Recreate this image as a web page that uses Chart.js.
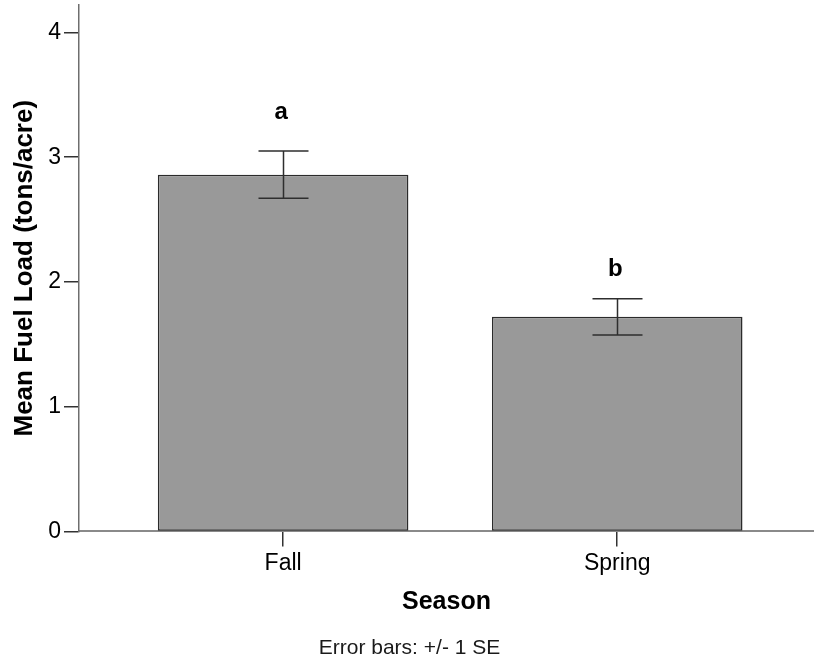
<!DOCTYPE html>
<html>
<head>
<meta charset="utf-8">
<script src="https://cdn.jsdelivr.net/npm/chart.js@4"></script>
<style>
  html, body { margin: 0; padding: 0; background: #ffffff; }
  canvas { display: block; }
</style>
</head>
<body>
<canvas id="chart" width="814" height="659"></canvas>
<script>
// Mean fuel load by burn season, with +/- 1 standard error
const seasons = ['Fall', 'Spring'];
const meanLoad = [2.86, 1.72];
const stdError = [0.19, 0.145];
const groupLetters = ['a', 'b'];
const letterLevel = [3.31, 2.05];   // y-value of each letter's baseline
const yTicks = [0, 1, 2, 3, 4];

const FONT = '"Liberation Sans", Arial, Helvetica, sans-serif';

const points = seasons.map((s, i) => ({ x: i + 1, y: meanLoad[i] }));

// Draws the SE whiskers and the significance letters above each bar
const errorBarPlugin = {
  id: 'errorBars',
  afterDatasetsDraw(chart) {
    const { ctx, scales: { x, y } } = chart;
    ctx.save();
    ctx.strokeStyle = '#2e2e2e';
    ctx.lineWidth = 1.5;
    const cap = 25;
    seasons.forEach((s, i) => {
      const px = Math.round(x.getPixelForValue(i + 1)) + 0.5;
      const hi = y.getPixelForValue(meanLoad[i] + stdError[i]);
      const lo = y.getPixelForValue(meanLoad[i] - stdError[i]);
      ctx.beginPath();
      ctx.moveTo(px, hi); ctx.lineTo(px, lo);
      ctx.moveTo(px - cap, hi); ctx.lineTo(px + cap, hi);
      ctx.moveTo(px - cap, lo); ctx.lineTo(px + cap, lo);
      ctx.stroke();
    });
    ctx.fillStyle = '#000000';
    ctx.font = 'bold 24px ' + FONT;
    ctx.textAlign = 'center';
    ctx.textBaseline = 'alphabetic';
    groupLetters.forEach((t, i) => {
      ctx.fillText(t, x.getPixelForValue(i + 1) - 2, y.getPixelForValue(letterLevel[i]));
    });
    ctx.restore();
  }
};

new Chart(document.getElementById('chart'), {
  type: 'bar',
  data: {
    datasets: [{
      data: points,
      backgroundColor: '#999999',
      borderColor: '#2b2b2b',
      borderWidth: 1.5,
      borderSkipped: false,
      categoryPercentage: 1.0,
      barPercentage: 0.75
    }]
  },
  options: {
    responsive: false,
    animation: false,
    devicePixelRatio: 1,
    layout: { padding: { left: 5, top: 5, right: 0, bottom: 0 } },
    plugins: {
      legend: { display: false },
      tooltip: { enabled: false },
      title: {
        display: true,
        position: 'bottom',
        text: 'Error bars: +/- 1 SE',
        color: '#1a1a1a',
        font: { family: FONT, size: 21, weight: 'normal', lineHeight: 1.0 },
        padding: { top: 0, bottom: 0 }
      }
    },
    scales: {
      x: {
        type: 'linear',
        min: 0.389,
        max: 2.589,
        offset: false,
        afterBuildTicks: (scale) => { scale.ticks = seasons.map((s, i) => ({ value: i + 1 })); },
        ticks: {
          callback: (v) => seasons[v - 1] ?? '',
          color: '#000000',
          font: { family: FONT, size: 23 },
          padding: 3,
          autoSkip: false,
          maxRotation: 0
        },
        grid: {
          offset: false,
          drawOnChartArea: false,
          drawTicks: true,
          tickLength: 15,
          color: '#333333',
          lineWidth: 1.5
        },
        border: { display: true, color: '#8a8a8a', width: 2 },
        title: {
          display: true,
          text: 'Season',
          color: '#000000',
          font: { family: FONT, size: 25, weight: 'bold' },
          padding: { top: 7, bottom: 21 }
        }
      },
      y: {
        type: 'linear',
        min: 0,
        max: 4.22,
        afterBuildTicks: (scale) => { scale.ticks = yTicks.map(v => ({ value: v })); },
        ticks: {
          color: '#000000',
          font: { family: FONT, size: 23, lineHeight: 0.1 },
          padding: 3
        },
        grid: {
          drawOnChartArea: false,
          drawTicks: true,
          tickLength: 15,
          color: '#333333',
          lineWidth: 1.5
        },
        border: { display: true, color: '#6e6e6e', width: 1.5 },
        title: {
          display: true,
          text: 'Mean Fuel Load (tons/acre)',
          color: '#000000',
          font: { family: FONT, size: 26, weight: 'bold' },
          padding: { top: 4, bottom: 5 }
        }
      }
    }
  },
  plugins: [errorBarPlugin]
});
</script>
</body>
</html>
